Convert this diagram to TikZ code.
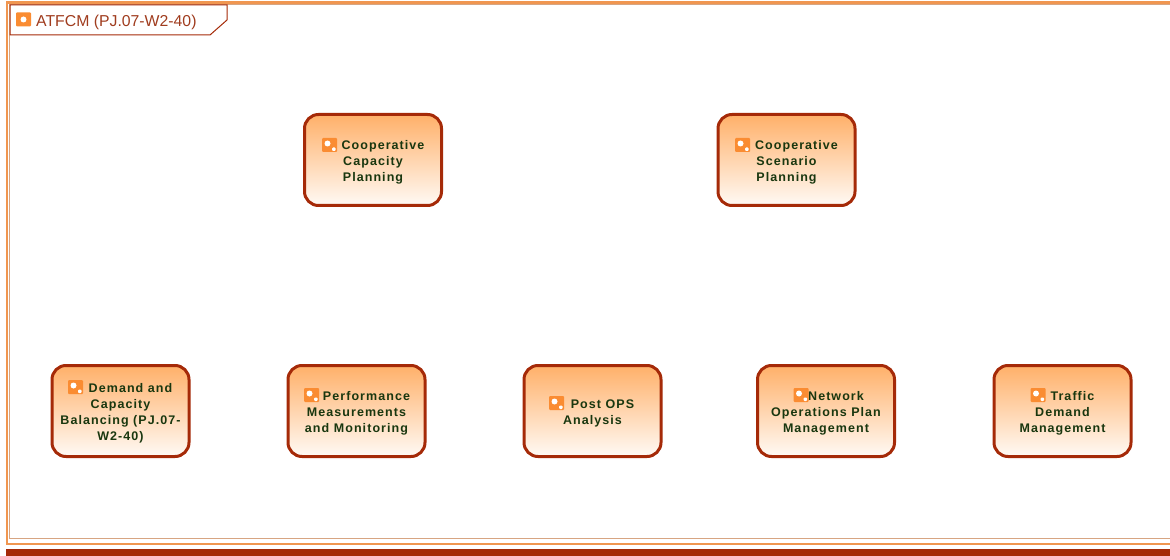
\documentclass[tikz,border=0pt]{standalone}
\usepackage{fontspec}
\setmainfont{Liberation Sans}
\newfontfamily\boxfont[LetterSpace=8.5]{Liberation Sans Bold}
% Room for the icon on a first line
\newcommand{\iconroom}{\rule{0pt}{14.5pt}\hspace*{20pt}}
\usetikzlibrary{positioning}
\begin{document}
\begin{tikzpicture}[x=1pt, y=-1pt]
    % Define colors
    \definecolor{framecolor}{RGB}{240, 150, 80}
    \definecolor{thincolor}{RGB}{215, 165, 130}
    \definecolor{barcolor}{RGB}{165, 42, 8}
    \definecolor{iconcolor}{RGB}{250, 140, 50}
    \definecolor{boxtop}{RGB}{255, 176, 105}
    \definecolor{boxbottom}{RGB}{255, 250, 245}
    \definecolor{labelcolor}{RGB}{25, 55, 15}
    \definecolor{titlecolor}{RGB}{160, 60, 30}

    \tikzset{
        funcbox/.style={draw=barcolor, line width=3pt, rounded corners=14pt,
            top color=boxtop, bottom color=boxbottom, minimum width=137pt, minimum height=91pt,
            align=center, text=labelcolor, inner sep=0pt,
            font=\fontsize{12.5}{16}\boxfont},
        funcicon/.style={fill=iconcolor, draw=none, rounded corners=1pt, minimum width=15pt,
            minimum height=14pt, inner sep=0pt,
            path picture={
                \fill[white] ([shift={(5.5pt,-5.5pt)}]path picture bounding box.north west) circle (3pt);
                \fill[white] ([shift={(-5pt,4.5pt)}]path picture bounding box.south east) rectangle +(3.5pt,-3.5pt);
            }},
        tabicon/.style={fill=iconcolor, draw=none, rounded corners=1pt, minimum width=15pt,
            minimum height=14pt, inner sep=0pt,
            path picture={
                \fill[white] (path picture bounding box.center) circle (3pt);
            }}
    }

    % Fix the page size
    \useasboundingbox (0,0) rectangle (1170,556);

    % Draw the outer frame
    \fill[barcolor] (6,549) rectangle (1170,556);
    \draw[framecolor, line width=2.5pt] (1170,2.5) -- (7,2.5) -- (7,544) -- (1170,544);
    \draw[thincolor, line width=1pt] (1170,5) -- (9.5,5) -- (9.5,538.5) -- (1170,538.5);

    % Draw the title tab
    \path[fill=white, draw=barcolor, line width=1pt] (10,5) -- (227,5) -- (227,20) -- (210,35) -- (10,35) -- cycle;
    \node[tabicon] (titleicon) at (23.5,19.5) {};
    \node[right, inner sep=0pt, text=titlecolor, font=\fontsize{15.8}{18}\selectfont] (title) at (36,22) {ATFCM (PJ.07-W2-40)};

    % Add the upper row
    \node[funcbox] (capacity) at (373,160) {\iconroom Cooperative\\Capacity\\Planning};
    \node[funcbox] (scenario) at (786.5,160) {\iconroom Cooperative\\Scenario\\Planning};

    % Add the lower row
    \node[funcbox] (demand) at (120.5,411) {\iconroom Demand and\\Capacity\\Balancing (PJ.07-\\W2-40)};
    \node[funcbox] (performance) at (356.5,411) {\iconroom Performance\\Measurements\\and Monitoring};
    \node[funcbox] (postops) at (592.5,411) {\iconroom Post OPS\\Analysis};
    \node[funcbox] (network) at (826,411) {\iconroom Network\\Operations Plan\\Management};
    \node[funcbox] (traffic) at (1062.5,411) {\iconroom Traffic\\Demand\\Management};

    % Add the icons
    \node[funcicon] (capacityicon) at (329.5,145) {};
    \node[funcicon] (scenarioicon) at (742.5,145) {};
    \node[funcicon] (demandicon) at (75.5,387) {};
    \node[funcicon] (performanceicon) at (311.5,395) {};
    \node[funcicon] (postopsicon) at (556.5,403) {};
    \node[funcicon] (networkicon) at (801,395) {};
    \node[funcicon] (trafficicon) at (1038,395) {};

\end{tikzpicture}
\end{document}
